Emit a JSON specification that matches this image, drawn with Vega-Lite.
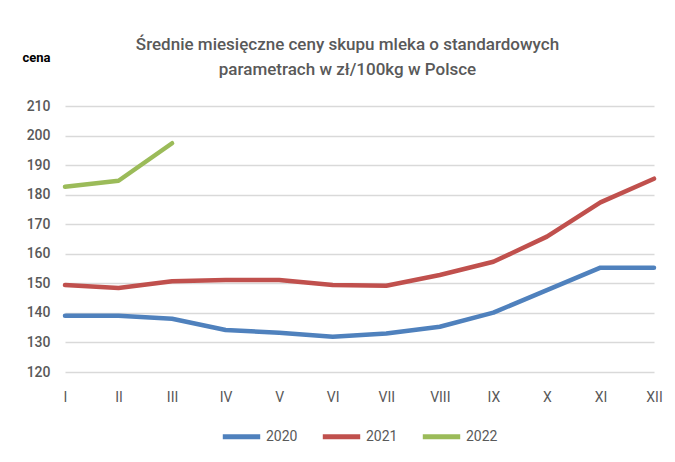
{
  "$schema": "https://vega.github.io/schema/vega-lite/v6.json",
  "width": 589,
  "height": 266,
  "autosize": {"type": "none"},
  "padding": {"left": 65, "top": 106, "right": 21, "bottom": 90},
  "background": "white",
  "title": {
    "text": ["Średnie miesięczne ceny  skupu mleka o standardowych", "parametrach  w zł/100kg w Polsce"],
    "font": "Roboto, sans-serif",
    "fontSize": 17,
    "fontWeight": 500,
    "color": "#595959",
    "lineHeight": 25,
    "anchor": "middle",
    "dx": -12,
    "dy": 48,
    "offset": 20
  },
  "data": {
    "values": [
      {"m": "I", "year": "2020", "cena": 139.0},
      {"m": "II", "year": "2020", "cena": 139.0},
      {"m": "III", "year": "2020", "cena": 138.0},
      {"m": "IV", "year": "2020", "cena": 134.2},
      {"m": "V", "year": "2020", "cena": 133.3},
      {"m": "VI", "year": "2020", "cena": 131.9},
      {"m": "VII", "year": "2020", "cena": 133.0},
      {"m": "VIII", "year": "2020", "cena": 135.3},
      {"m": "IX", "year": "2020", "cena": 140.1},
      {"m": "X", "year": "2020", "cena": 147.7},
      {"m": "XI", "year": "2020", "cena": 155.3},
      {"m": "XII", "year": "2020", "cena": 155.3},
      {"m": "I", "year": "2021", "cena": 149.4},
      {"m": "II", "year": "2021", "cena": 148.4},
      {"m": "III", "year": "2021", "cena": 150.7},
      {"m": "IV", "year": "2021", "cena": 151.1},
      {"m": "V", "year": "2021", "cena": 151.1},
      {"m": "VI", "year": "2021", "cena": 149.4},
      {"m": "VII", "year": "2021", "cena": 149.2},
      {"m": "VIII", "year": "2021", "cena": 152.8},
      {"m": "IX", "year": "2021", "cena": 157.3},
      {"m": "X", "year": "2021", "cena": 165.8},
      {"m": "XI", "year": "2021", "cena": 177.4},
      {"m": "XII", "year": "2021", "cena": 185.4},
      {"m": "I", "year": "2022", "cena": 182.7},
      {"m": "II", "year": "2022", "cena": 184.7},
      {"m": "III", "year": "2022", "cena": 197.4}
    ]
  },
  "mark": {"type": "line", "strokeWidth": 4.5, "strokeCap": "round", "strokeJoin": "round"},
  "encoding": {
    "x": {
      "field": "m",
      "type": "ordinal",
      "sort": ["I", "II", "III", "IV", "V", "VI", "VII", "VIII", "IX", "X", "XI", "XII"],
      "scale": {"type": "point", "padding": 0},
      "axis": {
        "title": null,
        "labelAngle": 0,
        "domain": false,
        "ticks": false,
        "grid": false,
        "labelPadding": 18,
        "labelFont": "Roboto, sans-serif",
        "labelFontSize": 14,
        "labelColor": "#595959"
      }
    },
    "y": {
      "field": "cena",
      "type": "quantitative",
      "scale": {"domain": [120, 210], "nice": false, "zero": false},
      "axis": {
        "values": [120, 130, 140, 150, 160, 170, 180, 190, 200, 210],
        "title": "cena",
        "titleAngle": 0,
        "titleAlign": "left",
        "titleBaseline": "middle",
        "titleX": -43,
        "titleY": -49,
        "titleFont": "Roboto, sans-serif",
        "titleFontSize": 13,
        "titleFontWeight": "bold",
        "titleColor": "#000000",
        "domain": false,
        "ticks": false,
        "labelPadding": 15,
        "labelFont": "Roboto, sans-serif",
        "labelFontSize": 14,
        "labelFontWeight": 500,
        "labelColor": "#595959",
        "gridColor": "#D9D9D9",
        "gridWidth": 1.5
      }
    },
    "color": {
      "field": "year",
      "type": "nominal",
      "scale": {"domain": ["2020", "2021", "2022"], "range": ["#4F81BD", "#C0504D", "#9BBB59"]},
      "legend": {
        "title": null,
        "orient": "none",
        "direction": "horizontal",
        "legendX": 155,
        "legendY": 309,
        "symbolType": "stroke",
        "symbolSize": 1400,
        "symbolStrokeWidth": 5,
        "columnPadding": 14,
        "labelOffset": 3,
        "labelFont": "Roboto, sans-serif",
        "labelFontSize": 14,
        "labelColor": "#595959"
      }
    }
  },
  "config": {"view": {"stroke": null}}
}
